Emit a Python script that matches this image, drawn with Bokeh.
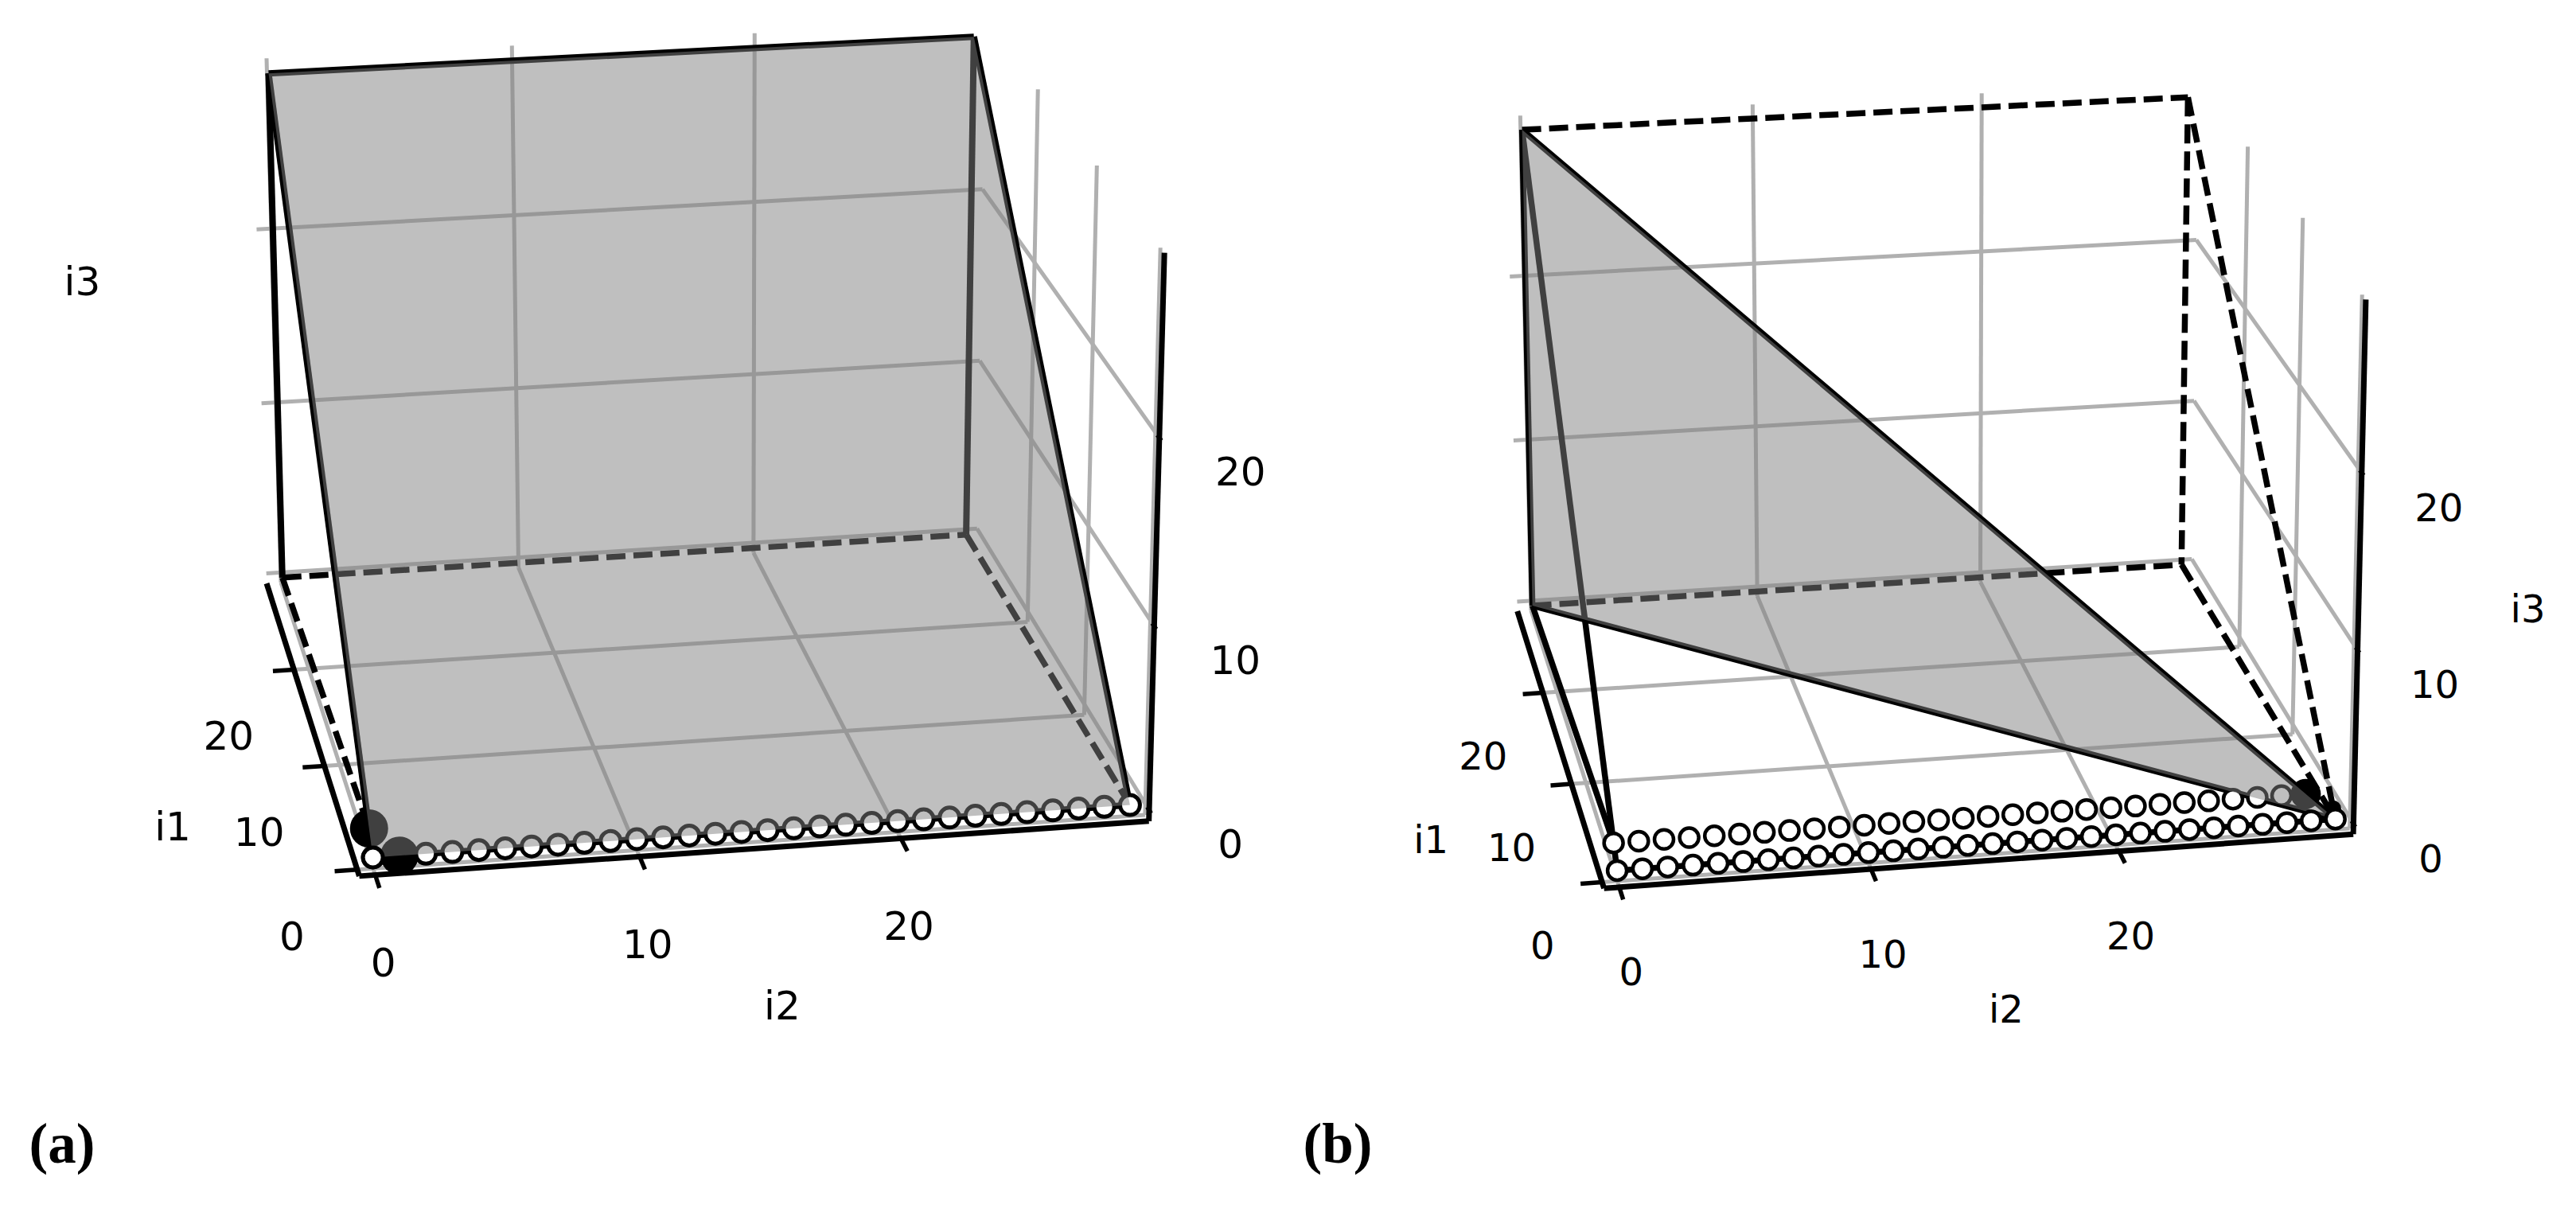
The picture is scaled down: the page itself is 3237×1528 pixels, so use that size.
import numpy as np
from bokeh.core.properties import value
from bokeh.embed import file_html
from bokeh.layouts import row
from bokeh.models import Range1d
from bokeh.plotting import figure
from bokeh.resources import INLINE

# ---- data (i1, i2, i3 index space) ----
LOW = -0.6
HIGH = 29.6
TICKS = [0, 10, 20]
TICK_LABELS = ["0", "10", "20"]
AXIS_NAMES = ["i1", "i2", "i3"]

# polytope corners
V000 = (0, 0, 0)
V101 = (1, 0, 1)
V0M0 = (0, 29, 0)
VM00 = (29, 0, 0)
VMM0 = (29, 29, 0)
VM0M = (29, 0, 29)
VMMM = (29, 29, 29)

A_ROW0_I2 = [0, 2, 3, 4, 5, 6, 7, 8, 9, 10, 11, 12, 13, 14, 15, 16, 17, 18, 19, 20, 21, 22, 23, 24, 25, 26, 27, 28, 29]
A_BIG = [(1, 0, 1), (0, 1, 0)]
A_PLANE = [V000, V0M0, VMMM, VM0M]
A_SOLID = [(V000, V0M0), (VM0M, VMMM), (VM0M, VM00), (VMMM, VMM0), (VM0M, V000), (VMMM, V0M0)]
A_DASHED = [(VM00, VMM0), (VM00, V101), (VMM0, V0M0)]

B_ROW0_I2 = [0, 1, 2, 3, 4, 5, 6, 7, 8, 9, 10, 11, 12, 13, 14, 15, 16, 17, 18, 19, 20, 21, 22, 23, 24, 25, 26, 27, 28, 29]
B_ROW1_I2 = [0, 1, 2, 3, 4, 5, 6, 7, 8, 9, 10, 11, 12, 13, 14, 15, 16, 17, 18, 19, 20, 21, 22, 23, 24, 25, 26, 27]
B_BIG = [(1, 28, 1)]
B_SMALL_DARK = [(0.4, 29, 0.4)]
B_PLANE = [VM0M, VM00, V0M0]
B_SOLID = [(V000, V0M0), (VM0M, VM00), (VM0M, V0M0), (VM00, V0M0), (VM0M, V101), (VM00, V101), (V101, V000)]
B_DASHED = [(VM0M, VMMM), (VMMM, VMM0), (VM00, VMM0), (VMMM, V0M0), (VMM0, V0M0)]

# camera calibration pairs: index-space corner -> page position in a 1568-wide frame
L, H = LOW, HIGH
A_CAL = [
    ((H, L, 0), (161, 349.5)), ((H, H, 0), (592, 323)), ((0, H, L), (697.6, 496.5)), ((10, H, L), (660, 434.5)),
    ((10, H, H), (667.5, 101)), ((20, H, H), (632, 55)), ((0, H, H), (705.8, 150)), ((H, L, 20), (156.5, 140)),
    ((H, L, 10), (158, 245)), ((H, H, 20), (598, 115.5)), ((20, L, L), (183, 407.7)), ((10, L, L), (201.9, 465.8)),
    ((20, 10, L), (337.2, 398)), ((10, 10, L), (361.3, 455.3)), ((H, 10, L), (314.9, 344.7)), ((H, 20, L), (458, 335)),
    ((29, 0, 29), (163, 44)), ((29, 29, 29), (593, 22)), ((29, 0, 0), (170, 351)), ((29, 29, 0), (590, 324)),
    ((0, 0, 0), (225, 521)), ((0, 29, 0), (687, 489)), ((1, 0, 1), (223, 504)),
    ((L, L, L), (217, 534)), ((L, H, L), (699, 500)), ((H, L, L), (161, 354)), ((L, H, H), (708, 152.6)),
]
B_CAL = [
    ((H, L, 0), (924.2, 366.5)), ((0, H, L), (1429, 504.6)), ((10, H, L), (1395, 446.5)), ((H, H, 20), (1336.6, 146)),
    ((20, H, H), (1368, 89.6)), ((10, H, H), (1401.5, 132.8)), ((0, H, H), (1437.9, 179)), ((20, H, 20), (1366, 188)),
    ((10, H, 20), (1399, 232.5)), ((H, L, 20), (919, 169)), ((H, L, 10), (920, 268)), ((H, 10, L), (1069, 360)),
    ((10, 10, L), (1112, 466.5)), ((29, 0, 29), (926, 78)), ((29, 29, 29), (1332, 60)), ((29, 0, 0), (932, 369.5)),
    ((29, 29, 0), (1329, 343)), ((0, 0, 0), (985, 529.3)), ((1, 0, 1), (982.7, 512.6)), ((0, 29, 0), (1420.4, 499.3)),
    ((L, L, L), (976, 541)), ((L, H, L), (1433, 507.8)), ((H, L, L), (923.2, 371.4)), ((L, H, H), (1440, 180.8)),
]
FRAME = 3237 / 1568


def fit_camera(pairs):
    rows, rhs = [], []
    for (x, y, z), (u, v) in pairs:
        u, v = u * FRAME, v * FRAME
        rows.append([x, y, z, 1, 0, 0, 0, 0, -u * x, -u * y, -u * z]); rhs.append(u)
        rows.append([0, 0, 0, 0, x, y, z, 1, -v * x, -v * y, -v * z]); rhs.append(v)
    sol = np.linalg.lstsq(np.array(rows, float), np.array(rhs, float), rcond=None)[0]
    return np.append(sol, 1.0).reshape(3, 4)


def project(cam, pts):
    arr = np.asarray(pts, float)
    hom = np.c_[arr, np.ones(len(arr))] @ cam.T
    return hom[:, 0] / hom[:, 2], hom[:, 1] / hom[:, 2]


GRID = "#b0b0b0"
BLACK = "#000000"


def segs(p, cam, pairs, **kw):
    x0, y0 = project(cam, [a for a, _ in pairs])
    x1, y1 = project(cam, [b for _, b in pairs])
    p.segment(x0, y0, x1, y1, **kw)


def dots(p, cam, pts, size, fill, line, width=0):
    x, y = project(cam, pts)
    if width:
        p.scatter(x, y, size=size, fill_color=fill, line_color=line, line_width=width)
    else:
        p.scatter(x, y, size=size, fill_color=fill, line_color=None)


def frame(p, cam):
    grid = []
    for v in TICKS:
        grid += [((H, v, L), (H, v, H)), ((H, v, L), (L, v, L))]       # i2 lines: wall + floor
        grid += [((v, L, L), (v, H, L)), ((v, H, L), (v, H, H))]       # i1 lines: floor + wall
        grid += [((H, L, v), (H, H, v)), ((H, H, v), (L, H, v))]       # i3 lines: both walls
    segs(p, cam, grid, line_color=GRID, line_width=5)
    segs(p, cam, [((L, L, L), (L, H, L)), ((L, L, L), (H, L, L)), ((L, H, L), (L, H, H))], line_color=BLACK, line_width=7)
    ticks = []
    for v in TICKS:
        ticks += [((v, L, L), (v, L - 0.85, L)), ((L, v, L), (L - 1.2, v, L)), ((L + 0.3, H, v), (L - 0.3, H, v))]
    segs(p, cam, ticks, line_color=BLACK, line_width=5.5)


def tick_text(p, cam, size, off1, off2, off3):
    font = value("DejaVu Sans")
    for anchor, off in (((lambda v: (v, L, L)), off1), ((lambda v: (L, v, L)), off2), ((lambda v: (L, H, v)), off3)):
        x, y = project(cam, [anchor(v) for v in TICKS])
        p.text(x + off[0], y + off[1], text=TICK_LABELS, text_font=font, text_font_size=value(f"{size}px"),
               text_align="center", text_baseline="middle", text_color=BLACK)


def name_text(p, cam, size, anchors):
    font = value("DejaVu Sans")
    for name, (pt, off) in zip(AXIS_NAMES, anchors):
        x, y = project(cam, [pt])
        p.text(x + off[0], y + off[1], text=[name], text_font=font, text_font_size=value(f"{size}px"),
               text_align="center", text_baseline="middle", text_color=BLACK)


def panel_tag(p, tag, x, y):
    p.text([x], [y], text=[tag], text_font=value("Liberation Serif"), text_font_size=value("71px"),
           text_font_style="bold", text_align="left", text_baseline="alphabetic", text_color=BLACK)


def new_fig(x0, x1):
    p = figure(width=x1 - x0, height=1512, x_range=Range1d(x0, x1), y_range=Range1d(1512, 0),
               x_axis_type=None, y_axis_type=None, toolbar_location=None, output_backend="svg",
               min_border=0, outline_line_color=None)
    p.grid.visible = False
    return p


PLANE_KW = dict(fill_color="#808080", fill_alpha=0.5, line_color=None)
DASH = "24 10"

# ---- panel (a)
cam_a = fit_camera(A_CAL)
pa = new_fig(0, 1617)
frame(pa, cam_a)
segs(pa, cam_a, A_DASHED, line_color=BLACK, line_width=7.5, line_dash=DASH)
segs(pa, cam_a, A_SOLID, line_color=BLACK, line_width=8)
dots(pa, cam_a, A_BIG, 48, BLACK, None)
dots(pa, cam_a, [(0, v, 0) for v in A_ROW0_I2], 25, "#ffffff", BLACK, 5)
xa, ya = project(cam_a, A_PLANE)
pa.patch(xa, ya, **PLANE_KW)
dots(pa, cam_a, [V000], 25, "#ffffff", BLACK, 5)
tick_text(pa, cam_a, 50, (-82, 83), (10, 110), (102, 42))
name_text(pa, cam_a, 50, [((14.5, L, L), (-173, 132)), ((L, 14.5, L), (31, 198)), ((H, L, 20), (-219, 66))])
panel_tag(pa, "(a)", 36, 1436)

# ---- panel (b)
cam_b = fit_camera(B_CAL)
pb = new_fig(1617, 3221)
frame(pb, cam_b)
segs(pb, cam_b, B_DASHED, line_color=BLACK, line_width=7.5, line_dash=DASH)
segs(pb, cam_b, B_SOLID, line_color=BLACK, line_width=7.5)
dots(pb, cam_b, B_BIG, 38, BLACK, None)
dots(pb, cam_b, B_SMALL_DARK, 20, BLACK, None)
dots(pb, cam_b, [(1, v, 1) for v in B_ROW1_I2], 24, "#ffffff", BLACK, 4.5)
xb, yb = project(cam_b, B_PLANE)
pb.patch(xb, yb, **PLANE_KW)
dots(pb, cam_b, [(0, v, 0) for v in B_ROW0_I2], 24, "#ffffff", BLACK, 4.5)
tick_text(pb, cam_b, 48, (-75, 79), (15, 106), (97, 43))
name_text(pb, cam_b, 48, [((14.5, L, L), (-160, 122)), ((L, 14.5, L), (29, 186)), ((L, H, 10), (214, -52))])
panel_tag(pb, "(b)", 1637, 1436)

layout = row(pa, pb, spacing=0)
open("out.html", "w").write(file_html(layout, INLINE))
